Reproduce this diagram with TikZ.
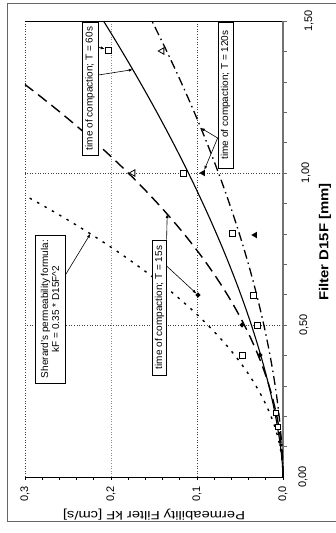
\documentclass[tikz,border=0pt]{standalone}
\usepackage{fontspec}
\setmainfont{Liberation Sans}
\usetikzlibrary{arrows.meta,shapes.geometric,calc}
\begin{document}
\begin{tikzpicture}[x=1pt,y=-1pt,
  lbl/.style={draw=black, line width=0.7pt, fill=white, rotate=90, inner sep=0pt, align=center, font=\fontsize{10}{11}\selectfont},
  tick/.style={rotate=90, inner sep=0pt, font=\fontsize{11}{12}\selectfont},
  gridl/.style={line width=0.6pt, dash pattern=on 1pt off 1.6pt, black!75},
  arr/.style={-{Latex[length=4pt,width=3pt]}, line width=0.6pt},
  sqm/.style={draw=black, line width=0.6pt, fill=white, rectangle, minimum size=6pt, inner sep=0pt},
  tri/.style={regular polygon, regular polygon sides=3, shape border rotate=90, fill=black, minimum size=7.5pt, inner sep=0pt},
  otri/.style={regular polygon, regular polygon sides=3, shape border rotate=90, draw=black, line width=0.8pt, fill=white, minimum size=7.5pt, inner sep=0pt},
  dia/.style={diamond, fill=black, minimum size=5.5pt, inner sep=0pt},
  solidc/.style={line width=1.1pt, black},
  dashc/.style={line width=1.4pt, black, dash pattern=on 11pt off 6pt},
  dashdotc/.style={line width=1.3pt, black, dash pattern=on 9pt off 4pt on 1.5pt off 4pt},
  dotc/.style={line width=1.4pt, black, dash pattern=on 2.5pt off 6pt}
]
\useasboundingbox (0,0) rectangle (336,533);
% outer frame
\draw[black!60, line width=0.9pt] (336,3) -- (7,3) -- (7,521) -- (336,521);

\begin{scope}[shift={(283,477)}, x={(0pt,304pt)}, y={(-860pt,0pt)}]
  % grid
  \draw[gridl] (0.5,0) -- (0.5,0.3);
  \draw[gridl] (1,0) -- (1,0.3);
  \draw[gridl] (0,0.1) -- (1.5,0.1);
  \draw[gridl, black!45] (0,0.2) -- (1.5,0.2);
  \draw[gridl] (0,0.3) -- (1.5,0.3);
  \draw[black, line width=1pt] (1.5,0) -- (1.5,0.3);
  % axes
  \draw[black, line width=0.8pt] (0,0) -- (0,0.3);
  \foreach \i in {0,...,15} \draw[line width=0.6pt] (0,\i*0.02) -- (-0.011,\i*0.02);
  \draw[black!55, line width=1.3pt] (0,0) -- (1.5,0);
  \foreach \i in {1,...,15} \draw[black!60, line width=0.6pt] (\i/10,0) -- (\i/10,-0.005);
  % curves
  \draw[dotc] (0,0) -- plot[domain=0:0.9258, samples=60] (\x,{0.35*\x*\x});
  \draw[dashc] (0,0) -- plot[domain=0:1.291, samples=60] (\x,{0.18*\x*\x});
  \draw[solidc] (0,0) -- plot[domain=0.02:1.5, samples=60] (\x,{0.11*\x^1.58});
  \draw[dashdotc] (0,0) -- plot[domain=0.02:1.5, samples=60] (\x,{0.075*\x^1.75});
  % arrow targets on curves
  \coordinate (e60) at (1.34,{0.11*1.34^1.58});
  \coordinate (e120) at (1.148,{0.075*1.148^1.75});
  \coordinate (e15) at (0.865,{0.18*0.865*0.865});
  \coordinate (esh) at (0.8,0.224);
\end{scope}

% markers
\node[sqm] (m1) at (108,50) {};
\node[sqm] (m2) at (183,173) {};
\node[sqm] (m3) at (232,233) {};
\node[sqm] (m4) at (253,295) {};
\node[sqm] (m5) at (257,325) {};
\node[sqm] (m6) at (242,355) {};
\node[sqm, minimum size=4.5pt] (m7) at (278,427) {};
\node[sqm, minimum size=4.5pt] (m8) at (276,413) {};
\node[otri] (mo1) at (162,51) {};
\node[otri] (mo2) at (133,173) {};
\node[tri] (mt1) at (203,173) {};
\node[tri] (mt2) at (255,235) {};
\node[dia] (md1) at (198,295) {};
\node[dia] (md2) at (242,325) {};
\node[dia] (md3) at (260,355) {};
\node[dia, minimum size=4pt] (md4) at (281,445) {};

% labels
\node[lbl, minimum width=133pt, minimum height=16pt] (t60) at (90,88.5) {time of compaction; T = 60s};
\node[lbl, minimum width=146pt, minimum height=15pt] (t120) at (225.5,95) {time of compaction; T = 120s};
\node[lbl, minimum width=135pt, minimum height=13.5pt] (t15) at (159.5,307.5) {time of compaction; T = 15s};
\node[lbl, minimum width=148pt, minimum height=30pt] (sh) at (50,309) {Sherard's permeability formula:\\kF = 0.35 * D15F\textasciicircum 2};

% arrows
\draw[arr] ([yshift=13.5pt]t60.south) -- (e60);
\draw[arr] ([yshift=41.5pt]t60.south) -- (m1);
\draw[arr] ([yshift=-43pt]t120.north) -- (e120);
\draw[arr] ([yshift=-43pt]t120.north) -- (mt1);
\draw[arr] (t15.south east) -- (e15);
\draw[arr] ([yshift=41.5pt]t15.south) -- (md1);
\draw[arr] ([yshift=34pt]sh.south) -- (esh);

% tick labels
\node[tick] (x0) at (303,477) {0,00};
\node[tick] (x1) at (304,325) {0,50};
\node[tick] (x2) at (306,173) {1,00};
\node[tick] (x3) at (309,21) {1,50};
\node[tick] (y0) at (283,494) {0,0};
\node[tick] (y1) at (197,494) {0,1};
\node[tick] (y2) at (111,494) {0,2};
\node[tick] (y3) at (25,494) {0,3};

% axis titles
\node[rotate=90, xscale=1.15, inner sep=0pt, font=\fontsize{13}{14}\selectfont\bfseries] (xt) at (325,242) {Filter D15F [mm]};
\node[rotate=180, xscale=1.23, inner sep=0pt, font=\fontsize{12}{13}\selectfont] (yt) at (154,515) {Permeability Filter kF [cm/s]};
\end{tikzpicture}
\end{document}
